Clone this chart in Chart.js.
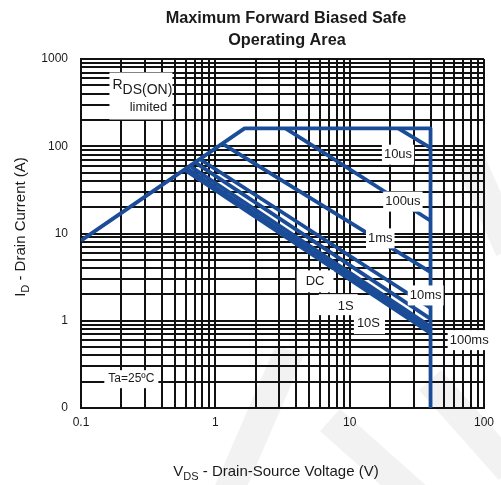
<!DOCTYPE html>
<html>
<head>
<meta charset="utf-8">
<script src="https://cdn.jsdelivr.net/npm/chart.js@4/dist/chart.umd.min.js"></script>
<style>
  html, body { margin: 0; padding: 0; background: #fff; }
</style>
</head>
<body>
<canvas id="soa" width="501" height="485"></canvas>
<script>
// Safe operating area, V_DS (V) against I_D (A)
var limitV = [0.1, 1.65, 40, 40];      // R_DS(on) limit, package limit, BV_DSS
var limitI = [8.3, 160, 160, 0.1];
var us10V = [23, 40];    var us10I = [160, 96];
var us100V = [3.33, 40]; var us100I = [160, 14];
var ms1V = [1.15, 40];   var ms1I = [105, 3.6];
var ms10V = [0.78, 40];  var ms10I = [70, 1.4];
var ms100V = [0.72, 40]; var ms100I = [64, 1.05];
var s1V = [0.66, 40];    var s1I = [58, 0.86];
var s10V = [0.62, 40];   var s10I = [55, 0.78];
var dcV = [0.6, 40];     var dcI = [53, 0.72];

var xTickValues = [0.1, 1, 10, 100];
var xTickLabels = ['0.1', '1', '10', '100'];
var yTickValues = [0.1, 1, 10, 100, 1000];
var yTickLabels = ['0', '1', '10', '100', '1000'];

// curve labels, placed in data units
var notes = [
  { text: '10us',  v: 22.9, i: 80,   pad: [2, 2, 3, 3] },
  { text: '100us', v: 24.9, i: 23.2, pad: [2, 2, 3, 3] },
  { text: '1ms',   v: 16.9, i: 8.8,  pad: [2, 2, 3, 3] },
  { text: '10ms',  v: 36.8, i: 1.95, pad: [2, 2, 3, 3] },
  { text: '100ms', v: 77.6, i: 0.60, pad: [2, 2, 3, 3] },
  { text: 'DC',    v: 5.53, i: 2.83, pad: [9, 9, 4, 4] },
  { text: '1S',    v: 9.35, i: 1.47, pad: [19, 4, 5, 2] },
  { text: '10S',   v: 13.8, i: 0.94, pad: [3, 5, 4, 4] }
];

var blue = '#1b4c98';
var font = 'Arial, "Liberation Sans", sans-serif';

function pts(xs, ys) {
  return xs.map(function (x, k) { return { x: x, y: ys[k] }; });
}
function logGrid(lo, hi) {
  var out = [];
  for (var d = lo; d < hi * 0.999; d *= 10)
    for (var k = 1; k < 10; k++) out.push(+(d * k).toPrecision(3));
  out.push(hi);
  return out;
}
function curve(xs, ys) {
  return {
    data: pts(xs, ys), showLine: true, borderColor: blue, borderWidth: 3.8,
    pointRadius: 0, tension: 0, borderJoinStyle: 'round', fill: false
  };
}

var watermark = {
  id: 'watermark',
  beforeDraw: function (chart) {
    var c = chart.ctx;
    c.save();
    c.fillStyle = '#fff';
    c.fillRect(0, 0, chart.width, chart.height);
    c.strokeStyle = 'rgba(0,0,0,0.05)';
    c.lineWidth = 30;
    c.lineCap = 'butt';
    [[225, 500, 290, 350], [330, 420, 420, 500], [430, 380, 510, 470], [470, 160, 510, 250]].forEach(function (s) {
      c.beginPath(); c.moveTo(s[0], s[1]); c.lineTo(s[2], s[3]); c.stroke();
    });
    c.restore();
  }
};

function subText(c, parts, x, y, align) {
  // parts: [text, size, dy]
  var total = 0;
  parts.forEach(function (p) { c.font = p[1] + 'px ' + font; total += c.measureText(p[0]).width; });
  var cx = align === 'center' ? x - total / 2 : x;
  c.textAlign = 'left';
  parts.forEach(function (p) {
    c.font = p[1] + 'px ' + font;
    c.fillText(p[0], cx, y + p[2]);
    cx += c.measureText(p[0]).width;
  });
}

var labels = {
  id: 'labels',
  afterDatasetsDraw: function (chart) {
    var c = chart.ctx, xs = chart.scales.x, ys = chart.scales.y;
    c.save();
    c.font = '13px ' + font;
    c.textBaseline = 'middle';
    c.textAlign = 'center';
    notes.forEach(function (n) {
      var px = xs.getPixelForValue(n.v), py = ys.getPixelForValue(n.i);
      var w = c.measureText(n.text).width;
      c.fillStyle = '#fff';
      c.fillRect(px - w / 2 - n.pad[0], py - 7 - n.pad[2], w + n.pad[0] + n.pad[1], 14 + n.pad[2] + n.pad[3]);
      c.fillStyle = '#1a1a1a';
      c.fillText(n.text, px, py);
    });

    // R_DS(on) limited box
    var bx = xs.getPixelForValue(0.2) - 12, by = ys.getPixelForValue(700);
    c.fillStyle = '#fff';
    c.fillRect(bx, by, 63, 47);
    c.fillStyle = '#1a1a1a';
    c.textBaseline = 'alphabetic';
    subText(c, [['R', 14, 0], ['DS(ON)', 14, 5]], bx + 3, by + 16, 'left');
    c.font = '13px ' + font;
    c.textAlign = 'center';
    c.fillText('limited', bx + 39, by + 38);

    // ambient temperature note
    var tx = xs.getPixelForValue(0.237), ty = ys.getPixelForValue(0.214);
    c.font = '12px ' + font;
    var tw = c.measureText('Ta=25ºC').width;
    c.fillStyle = '#fff';
    c.fillRect(tx - tw / 2 - 4, ty - 9, tw + 8, 18);
    c.fillStyle = '#1a1a1a';
    c.textBaseline = 'middle';
    c.fillText('Ta=25ºC', tx, ty);
    c.restore();
  },
  afterDraw: function (chart) {
    var c = chart.ctx;
    c.save();
    c.fillStyle = '#1a1a1a';
    c.textAlign = 'center';
    c.textBaseline = 'alphabetic';
    c.font = 'bold 16.3px ' + font;
    c.fillText('Maximum Forward Biased Safe', 286, 23);
    c.fillText('Operating Area', 287, 45);

    subText(c, [['V', 15, 0], ['DS', 11, 4], [' - Drain-Source Voltage (V)', 15, 0]], 276, 476, 'center');

    c.translate(25, 227);
    c.rotate(-Math.PI / 2);
    subText(c, [['I', 15, 0], ['D', 11, 4], [' - Drain Current (A)', 15, 0]], 0, 0, 'center');
    c.restore();
  }
};

var xGrid = logGrid(0.1, 100);
var yGrid = logGrid(0.1, 1000);

new Chart(document.getElementById('soa'), {
  type: 'scatter',
  data: {
    datasets: [
      curve(limitV, limitI), curve(us10V, us10I), curve(us100V, us100I),
      curve(ms1V, ms1I), curve(ms10V, ms10I), curve(ms100V, ms100I),
      curve(s1V, s1I), curve(s10V, s10I), curve(dcV, dcI)
    ]
  },
  options: {
    responsive: false,
    animation: false,
    devicePixelRatio: 1,
    layout: { padding: { top: 59, right: 13, bottom: 0, left: 0 } },
    plugins: { legend: { display: false }, tooltip: { enabled: false } },
    scales: {
      x: {
        type: 'logarithmic', min: 0.1, max: 100,
        afterFit: function (s) { s.height = 77; },
        afterBuildTicks: function (s) { s.ticks = xGrid.map(function (v) { return { value: v }; }); },
        grid: { color: '#111', lineWidth: 2, drawTicks: false },
        border: { color: '#111', width: 2 },
        ticks: {
          autoSkip: false, maxRotation: 0, minRotation: 0, padding: 7,
          color: '#1a1a1a', font: { family: font, size: 12 },
          callback: function (v) { var k = xTickValues.indexOf(v); return k < 0 ? '' : xTickLabels[k]; }
        }
      },
      y: {
        type: 'logarithmic', min: 0.1, max: 1000,
        afterFit: function (s) { s.width = 81; },
        afterBuildTicks: function (s) { s.ticks = yGrid.map(function (v) { return { value: v }; }); },
        grid: { color: '#111', lineWidth: 2, drawTicks: false },
        border: { color: '#111', width: 2 },
        ticks: {
          autoSkip: false, padding: 13,
          color: '#1a1a1a', font: { family: font, size: 12 },
          callback: function (v) { var k = yTickValues.indexOf(v); return k < 0 ? '' : yTickLabels[k]; }
        }
      }
    }
  },
  plugins: [watermark, labels]
});
</script>
</body>
</html>
